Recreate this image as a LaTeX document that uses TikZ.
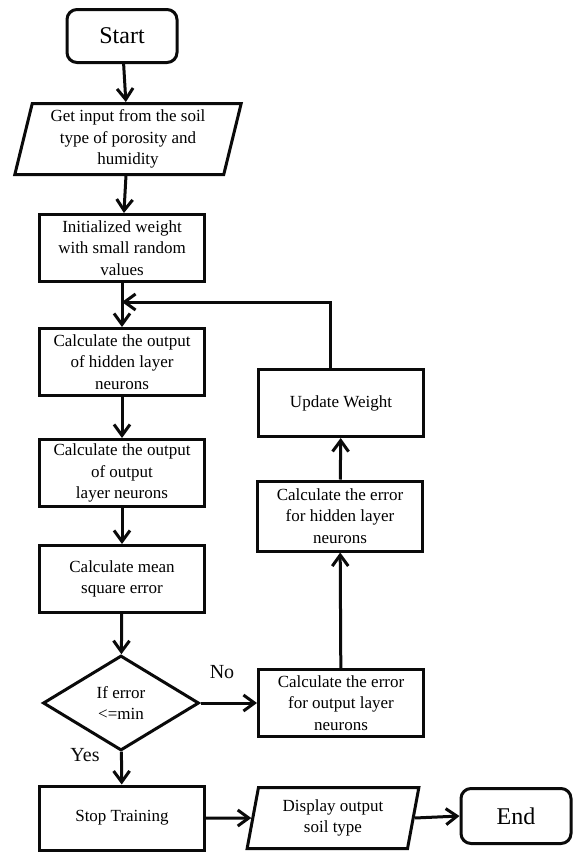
\documentclass[tikz,border=0pt]{standalone}
\usepackage{fontspec}
\setmainfont{Liberation Serif}
\usepackage{tikz}
\usetikzlibrary{arrows.meta,shapes.geometric}
\definecolor{ink}{HTML}{0A0A0A}
\tikzset{
  every node/.style={font=\fontsize{17}{21.5}\selectfont},
  base/.style={draw=ink,line width=3pt,fill=white,align=center,inner sep=2pt},
  term/.style={base,rounded corners=10pt,minimum width=110pt,minimum height=53pt,
               font=\fontsize{24}{28}\selectfont},
  box/.style={base,minimum width=165pt,minimum height=67pt},
  io/.style={base,trapezium,trapezium left angle=77,trapezium right angle=103,
             trapezium stretches=true},
  test/.style={base,diamond,minimum width=156pt,minimum height=95pt,inner sep=0pt},
  ar/.style={-{Straight Barb[length=11pt,width=16pt,line width=3pt]},draw=ink,line width=3pt},
  lab/.style={font=\fontsize{20}{24}\selectfont,text=ink,inner sep=1pt},
}

\begin{document}
\begin{tikzpicture}[x=1pt,y=-1pt]
\useasboundingbox[fill=white] (0,0) rectangle (574,854);
% left column
\node[term] (start) at (122,36) {Start};
\node[io,minimum width=227pt,minimum height=71pt] (input) at (128,139)
 {Get input from the soil\\type of porosity and\\humidity};
\node[box] (init) at (122,248) {Initialized weight\\with small random\\values};
\node[box] (hid) at (122,362) {Calculate the output\\of hidden layer\\neurons};
\node[box] (outl) at (122,473) {Calculate the output\\of output\\layer neurons};
\node[box] (mse) at (122,579) {Calculate mean\\square error};
\node[test] (dec) at (121,703) {If error\\<=min};
\node[box,minimum height=64pt] (stop) at (122,818) {Stop Training};
% right column
\node[box] (eout) at (341,703) {Calculate the error\\for output layer\\neurons};
\node[box,minimum height=70pt] (ehid) at (340,516) {Calculate the error\\for hidden layer\\neurons};
\node[box] (upd) at (341,403) {Update Weight};
% bottom row
\node[io,minimum width=172pt,minimum height=61pt,trapezium left angle=79,
      trapezium right angle=101] (disp) at (333,818) {Display output\\soil type};
\node[term,minimum height=55pt] (end) at (516,816) {End};
\coordinate (merge) at (122,302);

\draw[ar] (start) -- (input);
\draw[ar] (input) -- (init);
\draw[ar] (init) -- (hid);
\draw[ar] (hid) -- (outl);
\draw[ar] (outl) -- (mse);
\draw[ar] (mse) -- (dec);
\draw[ar] (dec) -- (stop);
\draw[ar] (dec.east) -- (eout.west);
\draw[ar] (eout) -- (ehid);
\draw[ar] (ehid) -- (upd);
\draw[ar] ([xshift=-11pt]upd.north) |- (merge);
\draw[ar] (stop.east) -- (disp.west);
\draw[ar] (disp.east) -- (end.west);

\node[lab] (no) at (222,672) {No};
\node[lab] (yes) at (85,755) {Yes};
\end{tikzpicture}
\end{document}
